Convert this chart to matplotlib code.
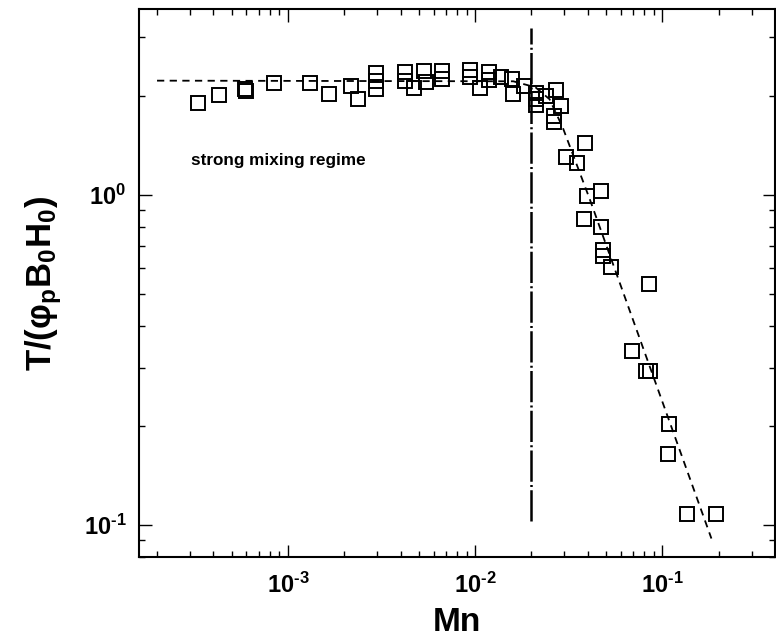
import math
import matplotlib
matplotlib.use("Agg")
import matplotlib.pyplot as plt
from matplotlib.ticker import LogLocator, NullFormatter, FuncFormatter

plt.rcParams['font.family'] = ['Liberation Sans', 'DejaVu Sans']
plt.rcParams['mathtext.fontset'] = 'custom'
plt.rcParams['mathtext.rm'] = 'Liberation Sans:bold'
plt.rcParams['mathtext.bf'] = 'Liberation Sans:bold'
plt.rcParams['mathtext.it'] = 'Liberation Sans:bold'

# Measured torque (normalised) against Mason number
mn = [3.33e-4, 4.31e-4, 5.93e-4, 6.00e-4, 8.46e-4, 1.317e-3, 1.66e-3, 2.18e-3,
      2.37e-3, 2.96e-3, 2.96e-3, 2.96e-3, 4.23e-3, 4.23e-3, 4.70e-3, 5.34e-3,
      5.44e-3, 6.69e-3, 6.69e-3, 9.45e-3, 9.45e-3, 1.062e-2, 1.186e-2, 1.186e-2,
      1.383e-2, 1.583e-2, 1.592e-2, 1.834e-2, 2.113e-2, 2.113e-2, 2.113e-2,
      2.403e-2, 2.70e-2, 2.89e-2, 2.635e-2, 2.635e-2, 3.88e-2, 3.07e-2, 3.50e-2,
      3.98e-2, 4.72e-2, 3.83e-2, 4.69e-2, 4.81e-2, 4.81e-2, 5.31e-2, 8.51e-2,
      6.91e-2, 8.15e-2, 8.62e-2, 0.1088, 0.1069, 0.1349, 0.1939]
torque = [1.901, 2.009, 2.096, 2.066, 2.185, 2.185, 2.023, 2.140,
          1.954, 2.343, 2.215, 2.096, 2.359, 2.215, 2.110, 2.375,
          2.193, 2.375, 2.246, 2.384, 2.278, 2.102, 2.359, 2.231,
          2.270, 2.246, 2.023, 2.140, 2.037, 1.947, 1.867,
          1.988, 2.081, 1.861, 1.735, 1.658, 1.438, 1.303, 1.254,
          0.993, 1.028, 0.843, 0.797, 0.679, 0.651, 0.603, 0.536,
          0.3356, 0.2919, 0.2929, 0.2023, 0.1641, 0.108, 0.108]

# Fitted curve: plateau followed by power-law decay
fit_mn = [2.0e-4, 0.016, 0.021, 0.025, 0.0294, 0.041, 0.183]
fit_t = [2.22, 2.21, 2.12, 1.95, 1.60, 0.97, 0.091]

# Critical Mason number separating the regimes
mn_crit = 0.02
crit_span = [0.103, 3.2]

x_ticks = [1e-3, 1e-2, 1e-1]
y_ticks = [1e-1, 1e0]

fig = plt.figure(figsize=(7.76, 6.42), dpi=100)
ax = fig.add_axes([0.179, 0.1324, 0.8197, 0.8536])

ax.plot(fit_mn, fit_t, color='black', lw=1.3, dashes=(4, 3), zorder=2)
ax.plot([mn_crit, mn_crit], crit_span, color='black', lw=1.8,
        dashes=(12.5, 1.3, 0.8, 1.3), zorder=2)
ax.plot(mn, torque, linestyle='none', marker='s', markersize=9.5,
        markerfacecolor='none', markeredgecolor='black', markeredgewidth=1.4,
        zorder=3)

ax.set_xscale('log')
ax.set_yscale('log')
ax.set_xlim(1.6e-4, 0.4)
ax.set_ylim(0.08, 3.66)

ax.xaxis.set_minor_locator(LogLocator(base=10, subs=range(2, 10)))
ax.yaxis.set_minor_locator(LogLocator(base=10, subs=range(2, 10)))
ax.set_xticks(x_ticks)
ax.set_yticks(y_ticks)


def pow_label(v, pos):
    e = int(round(math.log10(v)))
    if e < 0:
        return r'$\mathbf{10^{\text{-}%d}}$' % (-e)
    return r'$\mathbf{10^{%d}}$' % e


ax.xaxis.set_major_formatter(FuncFormatter(pow_label))
ax.yaxis.set_major_formatter(FuncFormatter(pow_label))
ax.xaxis.set_minor_formatter(NullFormatter())
ax.yaxis.set_minor_formatter(NullFormatter())

ax.tick_params(which='both', direction='in', top=True, right=True,
               labelsize=17, width=1.0)
ax.tick_params(which='major', length=9)
ax.tick_params(axis='x', which='major', pad=11)
ax.tick_params(axis='y', which='major', pad=9)
ax.tick_params(which='minor', length=4.5)
for s in ax.spines.values():
    s.set_linewidth(1.5)

ax.set_xlabel('Mn', fontsize=24, fontweight='bold', labelpad=7)
ax.set_ylabel(r'T/(φ$_\mathbf{p}$B$_\mathbf{0}$H$_\mathbf{0}$)', fontsize=25,
              fontweight='bold', labelpad=14)

ax.text(3.02e-4, 1.276, 'strong mixing regime', fontsize=12.3,
        fontweight='bold', ha='left', va='center')

fig.savefig('out.png', dpi=100)
